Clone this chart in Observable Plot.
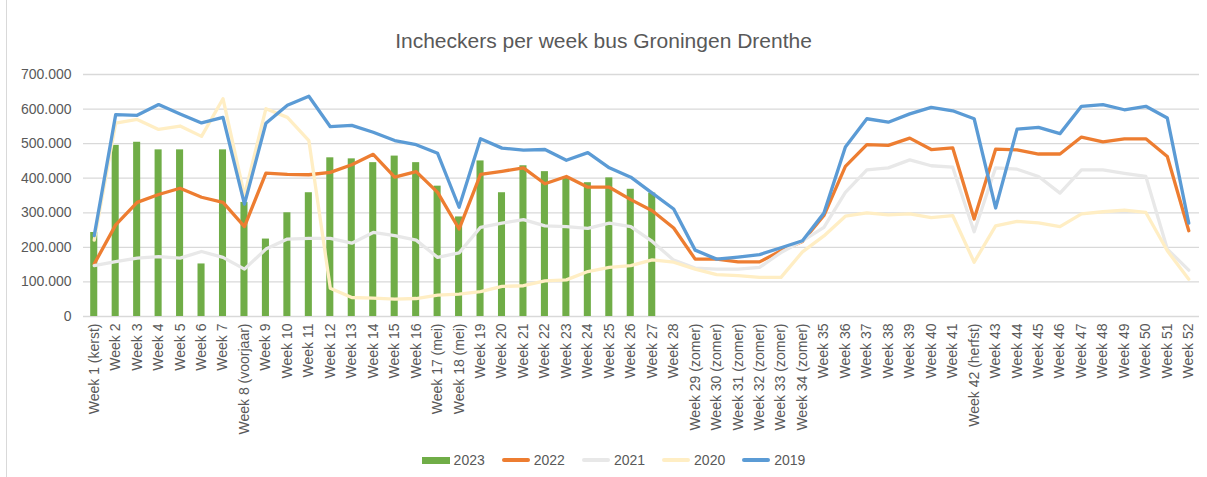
<!DOCTYPE html>
<html>
<head>
<meta charset="utf-8">
<script src="https://cdn.jsdelivr.net/npm/d3@7"></script>
<script src="https://cdn.jsdelivr.net/npm/@observablehq/plot@0.6"></script>
<style>
  html, body { margin: 0; padding: 0; background: #fff; }
  body { font-family: "Liberation Sans", Arial, sans-serif; }
  #wrap { position: relative; width: 1207px; height: 477px; overflow: hidden; }
  #frame { position: absolute; left: 6px; top: 0; width: 1px; height: 477px; background: #d9d9d9; }
  #title { position: absolute; top: 29px; left: 0; width: 1207px; text-align: center; font-size: 21px; color: #595959; }
  #chart { position: absolute; top: 60px; left: 0; }
  #legend { position: absolute; top: 452px; left: 0; width: 1227px; display: flex; justify-content: center; align-items: center; font-size: 14px; color: #595959; }
  .item { display: flex; align-items: center; margin: 0 8.5px; }
  .sw { width: 28px; margin-right: 4px; }
</style>
</head>
<body>
<div id="wrap">
  <div id="frame"></div>
  <div id="title">Incheckers per week bus Groningen Drenthe</div>
  <div id="chart"></div>
  <div id="legend"></div>
</div>
<script>
const weeks = [
  "Week 1 (kerst)", "Week 2", "Week 3", "Week 4", "Week 5", "Week 6", "Week 7", "Week 8 (voorjaar)",
  "Week 9", "Week 10", "Week 11", "Week 12", "Week 13", "Week 14", "Week 15", "Week 16",
  "Week 17 (mei)", "Week 18 (mei)", "Week 19", "Week 20", "Week 21", "Week 22", "Week 23", "Week 24",
  "Week 25", "Week 26", "Week 27", "Week 28", "Week 29 (zomer)", "Week 30 (zomer)", "Week 31 (zomer)",
  "Week 32 (zomer)", "Week 33 (zomer)", "Week 34 (zomer)", "Week 35", "Week 36", "Week 37", "Week 38",
  "Week 39", "Week 40", "Week 41", "Week 42 (herfst)", "Week 43", "Week 44", "Week 45", "Week 46",
  "Week 47", "Week 48", "Week 49", "Week 50", "Week 51", "Week 52"
];

const v2023 = [243000, 495000, 504000, 482000, 482000, 152000, 482000, 330000, 224000, 300000, 358000, 459000,
  456000, 445000, 464000, 445000, 377000, 288000, 450000, 358000, 436000, 419000, 400000, 387000, 401000,
  368000, 357000];

const v2022 = [152000, 265000, 330000, 353000, 371000, 345000, 330000, 260000, 415000, 411000, 410000, 417000,
  439000, 469000, 403000, 419000, 359000, 253000, 411000, 420000, 430000, 384000, 405000, 374000, 374000,
  338000, 306000, 256000, 166000, 166000, 158000, 158000, 190000, 217000, 292000, 434000, 497000, 495000,
  516000, 483000, 488000, 282000, 484000, 482000, 470000, 470000, 519000, 505000, 514000, 514000, 463000, 248000];

const v2021 = [147000, 159000, 169000, 173000, 169000, 188000, 171000, 137000, 195000, 224000, 226000, 226000,
  212000, 243000, 234000, 221000, 171000, 184000, 258000, 270000, 280000, 262000, 260000, 255000, 270000,
  260000, 217000, 163000, 140000, 137000, 137000, 142000, 185000, 219000, 258000, 359000, 424000, 430000,
  453000, 436000, 432000, 245000, 430000, 426000, 405000, 357000, 424000, 424000, 414000, 405000, 195000, 134000];

const v2020 = [221000, 559000, 570000, 541000, 551000, 521000, 630000, 350000, 601000, 576000, 509000, 82000,
  55000, 53000, 50000, 52000, 62000, 65000, 72000, 87000, 89000, 103000, 106000, 130000, 142000, 147000,
  164000, 157000, 137000, 121000, 118000, 113000, 113000, 187000, 233000, 290000, 300000, 294000, 297000,
  286000, 292000, 157000, 262000, 275000, 271000, 260000, 297000, 303000, 308000, 301000, 190000, 108000];

const v2019 = [234000, 584000, 582000, 613000, 586000, 560000, 576000, 325000, 559000, 611000, 637000, 549000,
  553000, 533000, 509000, 497000, 472000, 316000, 514000, 487000, 481000, 483000, 452000, 474000, 430000,
  403000, 357000, 311000, 192000, 166000, 172000, 179000, 199000, 219000, 299000, 490000, 572000, 562000,
  586000, 605000, 595000, 572000, 314000, 542000, 547000, 529000, 608000, 613000, 598000, 608000, 574000, 270000];

const yTicks = [0, 100000, 200000, 300000, 400000, 500000, 600000, 700000];

const seriesNames = ["2023", "2022", "2021", "2020", "2019"];
const seriesColors = ["#70ad47", "#ed7d31", "#e8e8e8", "#ffeec4", "#5b9bd5"];

const bars = v2023.map((v, i) => ({week: weeks[i], value: v}));
const toRows = (arr) => arr.map((v, i) => ({week: weeks[i], value: v}));
const lineSeries = [
  {name: "2022", rows: toRows(v2022), color: seriesColors[1]},
  {name: "2021", rows: toRows(v2021), color: seriesColors[2]},
  {name: "2020", rows: toRows(v2020), color: seriesColors[3]},
  {name: "2019", rows: toRows(v2019), color: seriesColors[4]}
];

const fmt = d => d === 0 ? "0" : d3.format(",")(d).replace(/,/g, ".");

const plot = Plot.plot({
  width: 1207,
  height: 380,
  marginTop: 14,
  marginBottom: 124,
  marginLeft: 83,
  marginRight: 8,
  style: {fontFamily: "Liberation Sans, Arial, sans-serif", fontSize: "14px", color: "#595959", background: "transparent"},
  x: {domain: weeks, padding: 0, round: false},
  y: {domain: [0, 700000]},
  marks: [
    Plot.gridY(yTicks, {stroke: "#d9d9d9", strokeOpacity: 1, strokeWidth: 1.3}),
    Plot.axisY(yTicks, {tickSize: 0, tickPadding: 12, tickFormat: fmt, fontSize: 14, fill: "#595959", label: null}),
    Plot.barY(bars, {x: "week", y: "value", fill: seriesColors[0], insetLeft: 7.2, insetRight: 7.2}),
    ...lineSeries.map(s => Plot.lineY(s.rows, {x: "week", y: "value", stroke: s.color, strokeWidth: 3.3, strokeLinejoin: "round", strokeLinecap: "round"})),
    Plot.axisX({tickSize: 0, tickPadding: 7, tickRotate: -90, fontSize: 14, fill: "#595959", label: null})
  ]
});
document.getElementById("chart").appendChild(plot);

const legend = document.getElementById("legend");
seriesNames.forEach((name, i) => {
  const item = document.createElement("div");
  item.className = "item";
  const sw = document.createElement("div");
  sw.className = "sw";
  sw.style.background = seriesColors[i];
  sw.style.height = i === 0 ? "7px" : "4px";
  sw.style.borderRadius = i === 0 ? "0" : "2px";
  const t = document.createElement("span");
  t.textContent = name;
  item.appendChild(sw);
  item.appendChild(t);
  legend.appendChild(item);
});
</script>
</body>
</html>
